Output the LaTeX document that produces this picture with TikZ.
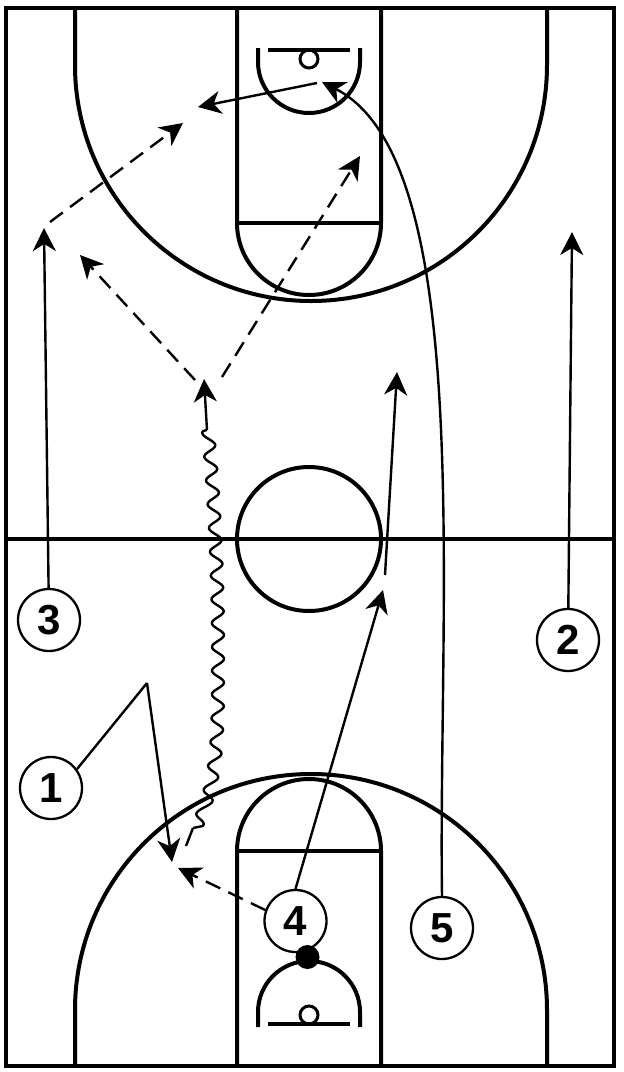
\documentclass[tikz,border=0pt]{standalone}
\usepackage{fontspec}
\setmainfont{Liberation Sans}
\usetikzlibrary{arrows.meta}
\tikzset{
  court/.style={draw=black,line width=4pt},
  player/.style={circle,draw=black,line width=2.3pt,fill=white,minimum size=62pt,inner sep=0pt,font=\fontsize{42}{42}\selectfont\bfseries},
  head/.style={-{Stealth[length=23pt,width=23pt,inset=7pt]}},
  move/.style={draw=black,line width=2.4pt,head},
  pass/.style={draw=black,line width=2.4pt,head,dash pattern=on 16pt off 9pt},
  dribble/.style={draw=black,line width=2.4pt,line join=round},
}
\begin{document}
\begin{tikzpicture}[x=1pt,y=-1pt]
\useasboundingbox (0,0) rectangle (624,1072);
\fill[white] (0,0) rectangle (624,1072);
% court
\draw[court] (6,8) rectangle (614,1066);
\draw[court] (6,539) -- (614,539);
\draw[court] (309,539) circle (72);
% top half
\draw[court] (237,8) -- (237,223) arc[start angle=180,end angle=0,radius=72] -- (381,8);
\draw[court] (237,223) -- (381,223);
\draw[court] (75,8) -- (75,65) arc[start angle=180,end angle=0,radius=236] -- (547,8);
\draw[court] (268,50) -- (350,50);
\draw[draw=black,line width=3pt] (309,59) circle (9);
\draw[court] (258,48) -- (258,62) arc[start angle=180,end angle=0,radius=51] -- (360,48);
% bottom half
\draw[court] (237,1066) -- (237,851) arc[start angle=180,end angle=360,radius=72] -- (381,1066);
\draw[court] (237,851) -- (381,851);
\draw[court] (75,1066) -- (75,1010) arc[start angle=180,end angle=360,radius=236] -- (547,1066);
\draw[court] (268,1024) -- (350,1024);
\draw[draw=black,line width=3pt] (309,1015) circle (9);
\draw[court] (258,1027) -- (258,1012) arc[start angle=180,end angle=360,radius=51] -- (360,1027);
% free ends
\coordinate (a3) at (44,228);
\coordinate (a2) at (572,232);
\coordinate (k1) at (147,683);
\coordinate (a1) at (172,862);
\coordinate (a4) at (383,590);
\coordinate (s4) at (385,575);
\coordinate (e4) at (397,372);
\coordinate (a5) at (322,82);
\coordinate (s5) at (317,83);
\coordinate (e5) at (198,107);
\coordinate (ap) at (178,868);
\coordinate (d0) at (186,846);
\coordinate (d1) at (193,828);
\coordinate (d2) at (207,430);
\coordinate (d3) at (204,379);
\coordinate (p1) at (195,380);
\coordinate (p1e) at (80,255);
\coordinate (p2) at (222,377);
\coordinate (p2e) at (360,156);
\coordinate (p3) at (50,222);
\coordinate (p3e) at (183,123);
% players
\node[player] (n3) at (49,620) {3};
\node[player] (n2) at (568,640) {2};
\node[player] (n1) at (51,788) {1};
\node[player] (n5) at (442,928) {5};
% connectors
\draw[move] (n3) -- (a3);
\draw[move] (n2) -- (a2);
\draw[draw=black,line width=2.4pt,line join=round] (n1.36) -- (k1);
\draw[move] (k1) -- (a1);
\draw[move] (s4) -- (e4);
\draw[move] (n5.north) .. controls (438,600) and (476,160) .. (a5);
\draw[move] (s5) -- (e5);
\draw[pass] (p1) -- (p1e);
\draw[pass] (p2) -- (p2e);
\draw[pass] (p3) -- (p3e);
\draw[dribble] (d2) -- plot[domain=431:826,samples=320,variable=\t]
  ({(\t<650 ? 218-10*((650-\t)/220)*((650-\t)/220) : 218-23*((\t-650)/180)*((\t-650)/180)*((\t-650)/180)*((\t-650)/180)) + 6*cos((\t-445)/23.75*360)},{\t}) -- (d1);
\draw[draw=black,line width=2.4pt] (d0) -- (d1);
\draw[move] (d2) -- (d3);
\node[player] (n4) at (295.5,921) {4};
\draw[move] (n4.north) -- (a4);
\draw[pass] (n4.160) -- (ap);
\node[circle,fill=black,minimum size=24pt,inner sep=0pt] (ball) at (307.5,957) {};
\end{tikzpicture}
\end{document}
